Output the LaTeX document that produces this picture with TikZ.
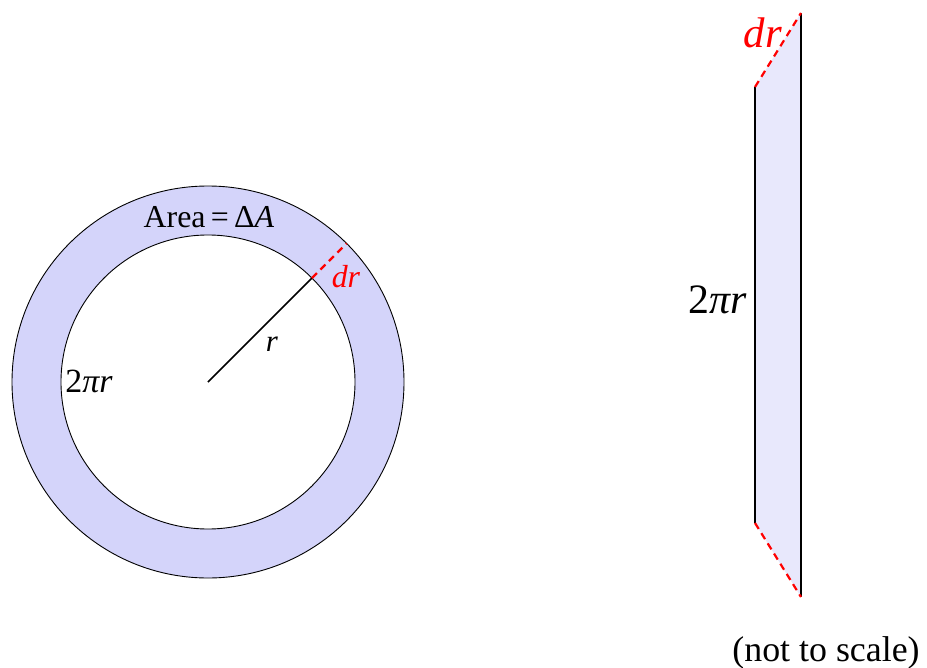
\documentclass[tikz,border=0pt]{standalone}
\usepackage{fontspec}
\setmainfont{Liberation Serif}
\usetikzlibrary{calc}
\begin{document}
\begin{tikzpicture}[x=1bp,y=-1bp,
  ringfill/.style={fill={rgb,255:red,212;green,212;blue,250}},
  stripfill/.style={fill={rgb,255:red,232;green,232;blue,252}},
  thinblack/.style={draw=black,line width=0.9bp},
  solidedge/.style={draw=black,line width=2bp},
  reddash/.style={draw=red,line width=2.2bp,dash pattern=on 7bp off 5bp},
  lbl/.style={inner sep=0pt,font=\fontsize{#1}{#1}\selectfont},
  lbl/.default=33]
\useasboundingbox (0,0) rectangle (927,668);
% ring
\coordinate (O) at (208,382);
\fill[ringfill,even odd rule] (O) circle[radius=196] (O) circle[radius=147];
\draw[thinblack] (O) circle[radius=196];
\draw[thinblack] (O) circle[radius=147];
\coordinate (P) at ($(O)+(-45:147)$);
\coordinate (Q) at ($(O)+(-45:196)$);
\draw[black,line width=1.5bp] (O) -- (P);
\draw[reddash] (P) -- (Q);
\node[lbl=31] (rlab) at (272,344) {\textit{r}};
\node[lbl=32,text=red] (drlab) at (346,277) {\textit{dr}};
\node[lbl=32] (area) at (209,217) {Area\,=\,Δ\textit{A}};
\node[lbl=34] (circ) at (89,381) {2\textit{πr}};
% strip
\coordinate (A) at (755,87);
\coordinate (B) at (801,13);
\coordinate (C) at (801,597);
\coordinate (D) at (755,523);
\fill[stripfill] (A) -- (B) -- (C) -- (D) -- cycle;
\draw[solidedge] (A) -- (D);
\draw[solidedge] (B) -- (C);
\draw[reddash] (A) -- (B);
\draw[reddash] (D) -- (C);
\node[lbl=43,text=red] (drlab2) at (763,33) {\textit{dr}};
\node[lbl=42] (len) at (718,300) {2\textit{πr}};
\node[lbl=36] (note) at (826,653) {(not to scale)};
\end{tikzpicture}
\end{document}
